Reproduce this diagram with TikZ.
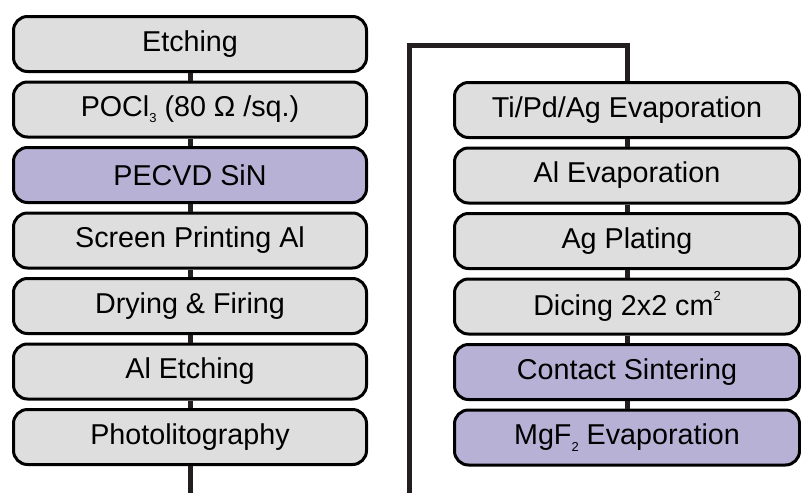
\documentclass[tikz,border=0pt]{standalone}
\usepackage{fontspec}
\setmainfont{Liberation Sans}
\usepackage{xcolor}
\definecolor{boxgray}{HTML}{DEDEDE}
\definecolor{boxviolet}{HTML}{B8B1D6}
\definecolor{linedark}{HTML}{231F20}
\tikzset{
  stepbox/.style={draw=black,line width=3pt,rounded corners=14pt,fill=boxgray,
    minimum width=353pt,minimum height=55pt,inner sep=0pt,
    font=\fontsize{28.7}{34}\selectfont},
  stepwide/.style={stepbox,minimum width=345pt},
  violet/.style={fill=boxviolet},
  link/.style={draw=linedark,line width=5pt}
}
\newcommand{\lowidx}[1]{\raisebox{-0.22em}{\fontsize{13}{13}\selectfont #1}}
\newcommand{\highidx}[1]{\raisebox{0.55em}{\fontsize{13}{13}\selectfont #1}}
\begin{document}
\begin{tikzpicture}[x=1pt,y=-1pt]
            \useasboundingbox (0,0) rectangle (801,493);
            % left column
            \node[stepbox] (etch) at (190,44) {Etching};
            \node[stepbox] (pocl) at (190,109.5) {POCl\lowidx{3} (80 Ω /sq.)};
            \node[stepbox,violet] (sin) at (190,175) {PECVD SiN};
            \node[stepbox] (print) at (190,240.5) {Screen Printing Al};
            \node[stepbox] (fire) at (190,306) {Drying \& Firing};
            \node[stepbox] (aletch) at (190,371.5) {Al Etching};
            \node[stepbox] (photo) at (190,437) {Photolitography};
            \coordinate (leftend) at (190,493);
            % right column
            \node[stepwide] (tipd) at (627,110) {Ti/Pd/Ag Evaporation};
            \node[stepwide] (alevap) at (627,175.5) {Al Evaporation};
            \node[stepwide] (agplate) at (627,241) {Ag Plating};
            \node[stepwide] (dice) at (627,306.5) {Dicing 2x2 cm\highidx{2}};
            \node[stepwide,violet] (sinter) at (627,372) {Contact Sintering};
            \node[stepwide,violet] (mgf) at (627,437.5) {MgF\lowidx{2} Evaporation};
            \coordinate (rightstart) at (409,493);
            \coordinate (rightturn) at (409,45);
            % connectors
            \draw[link] (etch) -- (pocl);
            \draw[link] (pocl) -- (sin);
            \draw[link] (sin) -- (print);
            \draw[link] (print) -- (fire);
            \draw[link] (fire) -- (aletch);
            \draw[link] (aletch) -- (photo);
            \draw[link] (photo.south) -- (leftend);
            \draw[link] (tipd) -- (alevap);
            \draw[link] (alevap) -- (agplate);
            \draw[link] (agplate) -- (dice);
            \draw[link] (dice) -- (sinter);
            \draw[link] (sinter) -- (mgf);
            \draw[link] (rightstart) -- (rightturn) -| (tipd.north);
        \end{tikzpicture}
\end{document}
